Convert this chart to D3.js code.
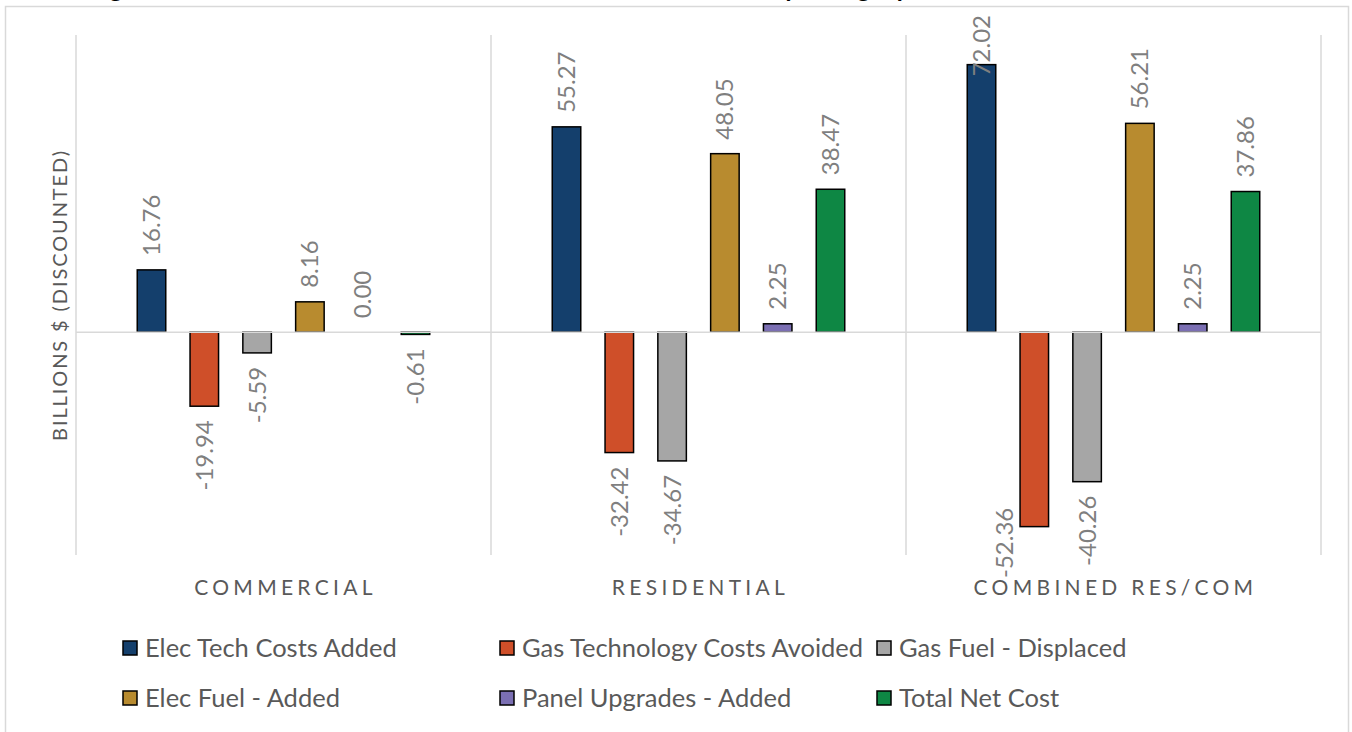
<!DOCTYPE html>
<html>
<head>
<meta charset="utf-8">
<script src="https://cdn.jsdelivr.net/npm/d3@7"></script>
<style>
  body { margin: 0; background: #fff; }
  text { font-family: Lato, "Open Sans", sans-serif; }
</style>
</head>
<body>
<div id="chart"></div>
<script>
// data (billions $, discounted)
const categories = ["COMMERCIAL", "RESIDENTIAL", "COMBINED RES/COM"];
const seriesNames = ["Elec Tech Costs Added", "Gas Technology Costs Avoided", "Gas Fuel - Displaced",
                     "Elec Fuel - Added", "Panel Upgrades - Added", "Total Net Cost"];
const elecTechCosts = [16.76, 55.27, 72.02];
const gasTechAvoided = [-19.94, -32.42, -52.36];
const gasFuelDisplaced = [-5.59, -34.67, -40.26];
const elecFuelAdded = [8.16, 48.05, 56.21];
const panelUpgrades = [0.00, 2.25, 2.25];
const totalNetCost = [-0.61, 38.47, 37.86];
const seriesColors = ["#143f6c", "#cf4f29", "#a6a6a6", "#b88b2f", "#7b6fb3", "#0e8744"];

const seriesValues = [elecTechCosts, gasTechAvoided, gasFuelDisplaced, elecFuelAdded, panelUpgrades, totalNetCost];

const width = 1352, height = 732;
const plot = { left: 76, right: 1321, top: 35, bottom: 555 };

const svg = d3.select("#chart").append("svg")
    .attr("width", width)
    .attr("height", height);

// title, mostly cut off at the top like the source image
svg.append("text")
    .attr("x", 88)
    .attr("y", -3)
    .style("font-size", "26px")
    .style("font-weight", "bold")
    .attr("fill", "#000")
    .text("Figure 6: Net Discounted Costs of Electrification Measures by Category");

// chart border
svg.append("rect")
    .attr("x", 5.5).attr("y", 6.5)
    .attr("width", 1343).attr("height", 760)
    .attr("fill", "none")
    .attr("stroke", "#d9d9d9")
    .attr("stroke-width", 1.5);

const x0 = d3.scaleBand()
    .domain(categories)
    .range([plot.left, plot.right]);

const x1 = d3.scaleBand()
    .domain(seriesNames)
    .range([0, x0.bandwidth()])
    .paddingInner(0.46)
    .paddingOuter(1.16);

const y = d3.scaleLinear()
    .domain([-60, 80])
    .range([plot.bottom, plot.top]);

const color = d3.scaleOrdinal()
    .domain(seriesNames)
    .range(seriesColors);

// vertical separators between categories
const bounds = categories.map(c => x0(c)).concat([x0.range()[1]]);
svg.append("g").selectAll("line")
    .data(bounds)
    .enter().append("line")
    .attr("x1", d => d).attr("x2", d => d)
    .attr("y1", plot.top).attr("y2", plot.bottom)
    .attr("stroke", "#d9d9d9")
    .attr("stroke-width", 1.5);

// category labels
const xAxis = svg.append("g")
    .attr("transform", `translate(2, ${plot.bottom})`)
    .call(d3.axisBottom(x0).tickSize(0).tickPadding(25));
xAxis.select(".domain").remove();
xAxis.selectAll("text")
    .style("font-family", "Lato, sans-serif")
    .style("font-size", "21px")
    .style("letter-spacing", "4.3px")
    .attr("fill", "#595959");

// flat rows for the bars
const rows = [];
categories.forEach((cat, ci) => {
    seriesNames.forEach((s, si) => {
        rows.push({ cat, series: s, value: seriesValues[si][ci] });
    });
});

const bars = svg.append("g");
bars.selectAll("rect")
    .data(rows)
    .enter().append("rect")
    .attr("x", d => x0(d.cat) + x1(d.series))
    .attr("y", d => Math.min(y(d.value), y(0)))
    .attr("width", x1.bandwidth())
    .attr("height", d => Math.abs(y(d.value) - y(0)))
    .attr("fill", d => color(d.series))
    .attr("stroke", "#000")
    .attr("stroke-width", 1.5);

// zero line
svg.append("line")
    .attr("x1", plot.left).attr("x2", plot.right)
    .attr("y1", y(0)).attr("y2", y(0))
    .attr("stroke", "#d9d9d9")
    .attr("stroke-width", 1.5);

// value labels, rotated; kept inside the chart like Excel does
const labelTop = 15, labelBottom = 578, gap = 14;
const labels = svg.append("g")
    .selectAll("text")
    .data(rows)
    .enter().append("text")
    .attr("text-anchor", d => d.value >= 0 ? "start" : "end")
    .attr("dy", "0.35em")
    .style("font-size", "24px")
    .attr("fill", "#7f7f7f")
    .text(d => d.value.toFixed(2));

labels.each(function(d) {
    const len = this.getComputedTextLength();
    const left = x0(d.cat) + x1(d.series);
    let cx = left + x1.bandwidth() / 2;
    let pos;
    if (d.value >= 0) {
        pos = y(d.value) - gap;
        if (pos - len < labelTop) pos = labelTop + len;
    } else {
        pos = y(d.value) + gap;
        if (pos + len > labelBottom) {
            pos = labelBottom - len;
            cx = left - 15;
        }
    }
    d3.select(this).attr("transform", `translate(${cx}, ${pos}) rotate(-90)`);
});

// y axis title
svg.append("text")
    .attr("transform", `translate(60, ${(plot.top + plot.bottom) / 2}) rotate(-90)`)
    .attr("text-anchor", "middle")
    .attr("dy", "0.35em")
    .style("font-size", "20px")
    .style("letter-spacing", "1.9px")
    .attr("fill", "#595959")
    .text("BILLIONS $ (DISCOUNTED)");

// legend, 3 columns x 2 rows
const legend = svg.append("g");
const item = legend.selectAll("g")
    .data(seriesNames)
    .enter().append("g")
    .attr("transform", (d, i) => `translate(${123 + (i % 3) * 377}, ${648 + Math.floor(i / 3) * 50})`);

item.append("rect")
    .attr("x", 0).attr("y", -7)
    .attr("width", 14).attr("height", 14)
    .attr("fill", d => color(d))
    .attr("stroke", "#000")
    .attr("stroke-width", 1.5);

item.append("text")
    .attr("x", 22)
    .attr("dy", "0.35em")
    .style("font-size", "25.5px")
    .attr("fill", "#595959")
    .text(d => d);
</script>
</body>
</html>
